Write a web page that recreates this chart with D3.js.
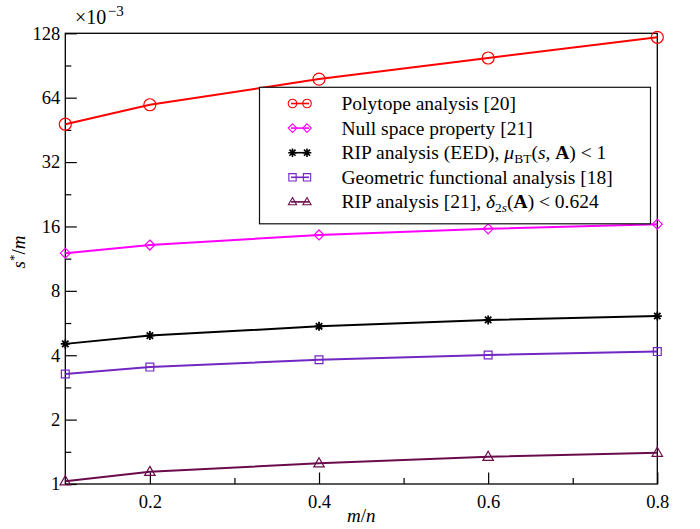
<!DOCTYPE html>
<html>
<head>
<meta charset="utf-8">
<script src="https://cdn.jsdelivr.net/npm/d3@7"></script>
<style>
  body { margin: 0; background: #fff; }
  svg { display: block; }
</style>
</head>
<body>
<div id="chart"></div>
<script>
// values are in units of 1e-3
const ratios = [0.1, 0.2, 0.4, 0.6, 0.8];
const polytope = [48.1, 59.3, 78.2, 98.1, 122.6];
const nullSpace = [12.0, 13.1, 14.6, 15.6, 16.4];
const ripEED = [4.52, 4.94, 5.46, 5.85, 6.10];
const geometric = [3.27, 3.52, 3.81, 4.01, 4.16];
const ripDelta = [1.03, 1.14, 1.25, 1.34, 1.40];
const yTickValues = [1, 2, 4, 8, 16, 32, 64, 128];
const xTickValues = [0.2, 0.4, 0.6, 0.8];
const xMinorTicks = [0.3, 0.5, 0.7];

const serif = "'Liberation Serif', 'Times New Roman', Times, serif";

const series = [
  { values: polytope, color: "#ff0000", marker: "circle", size: 6,
    label: [["Polytope analysis [20]"]] },
  { values: nullSpace, color: "#ff00ff", marker: "diamond", size: 5,
    label: [["Null space property [21]"]] },
  { values: ripEED, color: "#000000", marker: "star", size: 4.5,
    label: [["RIP analysis (EED), "], ["μ", "i"], ["BT", "sub"], ["("], ["s", "i"], [", "], ["A", "b"], [") < 1"]] },
  { values: geometric, color: "#7127c2", marker: "square", size: 4.6,
    label: [["Geometric functional analysis [18]"]] },
  { values: ripDelta, color: "#6a0c4c", marker: "triangle", size: 5.5,
    label: [["RIP analysis [21], "], ["δ", "i"], ["2", "sub"], ["s", "subi"], ["("], ["A", "b"], [") < 0.624"]] }
];

const width = 700, height = 529;
const margin = { top: 33.3, right: 42.7, bottom: 45, left: 65.3 };
const innerWidth = width - margin.left - margin.right;
const innerHeight = height - margin.top - margin.bottom;

const svg = d3.select("#chart").append("svg")
  .attr("width", width)
  .attr("height", height)
  .attr("font-family", serif);

const xScale = d3.scaleLinear()
  .domain([0.1, 0.8])
  .range([margin.left, margin.left + innerWidth]);

const yScale = d3.scaleLog().base(2)
  .domain([1, 128])
  .range([margin.top + innerHeight, margin.top]);

// axes, ticks pointing into the plot
const yMinor = yTickValues.slice(0, -1).map(v => v * Math.SQRT2);

svg.append("g")
  .attr("transform", `translate(${margin.left}, 0)`)
  .call(d3.axisLeft(yScale).tickValues(yTickValues).tickFormat(d3.format("d"))
    .tickSize(-11.5).tickPadding(5))
  .attr("font-family", serif)
  .attr("font-size", 18.5)
  .call(g => g.select(".domain").remove());

svg.append("g")
  .attr("transform", `translate(${margin.left}, 0)`)
  .call(d3.axisLeft(yScale).tickValues(yMinor).tickFormat("").tickSize(-6))
  .call(g => g.select(".domain").remove())
  .call(g => g.selectAll("text").remove());

svg.append("g")
  .attr("transform", `translate(0, ${margin.top + innerHeight})`)
  .call(d3.axisBottom(xScale).tickValues(xTickValues).tickFormat(d3.format(".1f"))
    .tickSize(-11.5).tickPadding(11))
  .attr("font-family", serif)
  .attr("font-size", 18.5)
  .call(g => g.select(".domain").remove());

svg.append("g")
  .attr("transform", `translate(0, ${margin.top + innerHeight})`)
  .call(d3.axisBottom(xScale).tickValues(xMinorTicks).tickFormat("").tickSize(-6))
  .call(g => g.select(".domain").remove())
  .call(g => g.selectAll("text").remove());

svg.selectAll(".tick line").attr("stroke", "#000").attr("stroke-width", 1.2);
svg.selectAll(".tick text").attr("fill", "#000");

// frame
svg.append("rect")
  .attr("x", margin.left)
  .attr("y", margin.top)
  .attr("width", innerWidth)
  .attr("height", innerHeight)
  .attr("fill", "none")
  .attr("stroke", "#000")
  .attr("stroke-width", 1.3);

// markers
function markerPath(type, r) {
  if (type === "circle") {
    return `M${-r},0A${r},${r} 0 1,0 ${r},0A${r},${r} 0 1,0 ${-r},0Z`;
  }
  if (type === "diamond") {
    return `M0,${-r}L${r},0L0,${r}L${-r},0Z`;
  }
  if (type === "square") {
    const s = r * 0.85;
    return `M${-s},${-s}H${s}V${s}H${-s}Z`;
  }
  if (type === "triangle") {
    return `M0,${-r}L${r * 0.95},${r * 0.65}L${-r * 0.95},${r * 0.65}Z`;
  }
  // eight pointed asterisk
  let p = "";
  for (let i = 0; i < 4; i++) {
    const a = i * Math.PI / 4;
    const dx = r * Math.sin(a), dy = r * Math.cos(a);
    p += `M${-dx},${-dy}L${dx},${dy}`;
  }
  return p;
}

const line = d3.line()
  .x((d, i) => xScale(ratios[i]))
  .y(d => yScale(d));

const plot = svg.append("g");

series.forEach(s => {
  plot.append("path")
    .datum(s.values)
    .attr("fill", "none")
    .attr("stroke", s.color)
    .attr("stroke-width", 2)
    .attr("d", line);
});

series.forEach(s => {
  plot.selectAll(null)
    .data(s.values)
    .enter()
    .append("path")
    .attr("transform", (d, i) => `translate(${xScale(ratios[i])}, ${yScale(d)})`)
    .attr("d", markerPath(s.marker, s.size))
    .attr("fill", "none")
    .attr("stroke", s.color)
    .attr("stroke-width", s.marker === "star" ? 1.8 : 1.2);
});

// legend (opaque box above the lines)
const legend = svg.append("g");
legend.append("rect")
  .attr("x", 259.5)
  .attr("y", 87.3)
  .attr("width", 391)
  .attr("height", 136.5)
  .attr("fill", "#fff")
  .attr("stroke", "#111")
  .attr("stroke-width", 1.2);

series.forEach((s, i) => {
  const y = 103.5 + i * 24.6;
  const row = legend.append("g");
  row.append("line")
    .attr("x1", 291).attr("x2", 309)
    .attr("y1", y).attr("y2", y)
    .attr("stroke", s.color)
    .attr("stroke-width", 1.6);
  [292.5, 307].forEach(mx => {
    row.append("path")
      .attr("transform", `translate(${mx}, ${y})`)
      .attr("d", markerPath(s.marker, 4.3))
      .attr("fill", "none")
      .attr("stroke", s.color)
      .attr("stroke-width", s.marker === "star" ? 1.6 : 1.1);
  });
  const text = row.append("text")
    .attr("x", 341.5)
    .attr("y", y + 6.5)
    .attr("font-family", serif)
    .attr("font-size", 19.5);
  let shifted = false;
  s.label.forEach(([t, kind]) => {
    const ts = text.append("tspan").text(t);
    const isSub = kind === "sub" || kind === "subi";
    if (isSub && !shifted) { ts.attr("dy", 4); shifted = true; }
    if (!isSub && shifted) { ts.attr("dy", -4); shifted = false; }
    if (isSub) ts.attr("font-size", 13.5);
    if (kind === "i" || kind === "subi") ts.attr("font-style", "italic");
    if (kind === "b") ts.attr("font-weight", "bold");
  });
});

// exponent note
const expo = svg.append("text")
  .attr("x", 75)
  .attr("y", 24)
  .attr("font-family", serif)
  .attr("font-size", 20);
expo.append("tspan").text("×10");
expo.append("tspan").attr("dx", 1.5).attr("dy", -8).attr("font-size", 15).text("−3");

// axis titles
const xTitle = svg.append("text")
  .attr("x", margin.left + innerWidth / 2)
  .attr("y", 522)
  .attr("text-anchor", "middle")
  .attr("font-family", serif)
  .attr("font-size", 19)
  .attr("font-style", "italic");
xTitle.append("tspan").text("m");
xTitle.append("tspan").attr("font-style", "normal").text("/");
xTitle.append("tspan").text("n");

const yTitle = svg.append("text")
  .attr("transform", `translate(25, 252) rotate(-90)`)
  .attr("text-anchor", "middle")
  .attr("font-family", serif)
  .attr("font-size", 19)
  .attr("font-style", "italic");
yTitle.append("tspan").text("s");
yTitle.append("tspan").attr("dy", -7).attr("font-size", 13).attr("font-style", "normal").text("*");
yTitle.append("tspan").attr("dy", 7).attr("font-style", "normal").text("/");
yTitle.append("tspan").text("m");
</script>
</body>
</html>
